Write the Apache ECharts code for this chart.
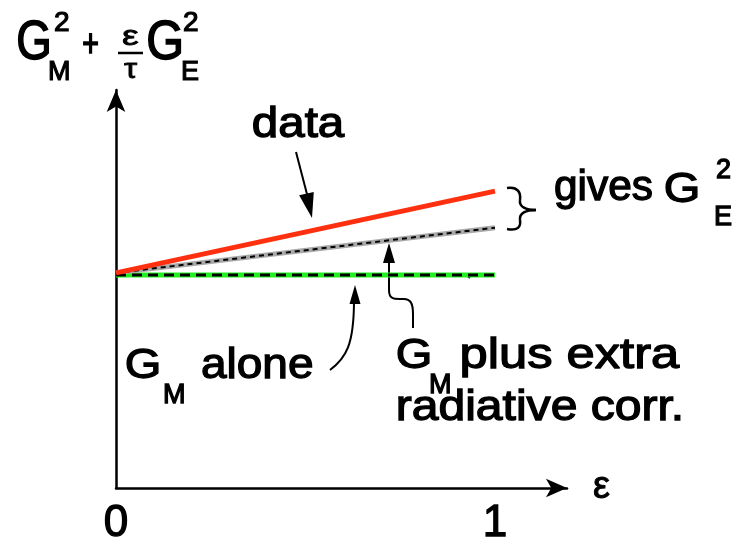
<!DOCTYPE html>
<html>
<head>
<meta charset="utf-8">
<script src="https://cdn.jsdelivr.net/npm/echarts@6/dist/echarts.min.js"></script>
<style>
  html, body { margin: 0; padding: 0; background: #fff; }
  #chart { width: 741px; height: 537px; }
</style>
</head>
<body>
<div id="chart"></div>
<script>
// epsilon values at the two ends of each line
const epsilon = [0, 1];
// tick labels on the epsilon axis
const epsilonTicks = [0, 1];
// G_M^2 + (eps/tau) G_E^2, arbitrary units
const measured = [1.0, 1.38];
const gmPlusRadCorr = [1.0, 1.21];
const gmAlone = [0.99, 0.99];

const FONT = '"Liberation Sans", Arial, Helvetica, sans-serif';
const INK = '#000';

function pairs(ys) {
  return epsilon.map((x, i) => [x, ys[i]]);
}

const measureCtx = document.createElement('canvas').getContext('2d');

// text placed by the left edge of its ink and its baseline;
// an optional ink width stretches the glyphs horizontally
function label(str, left, baseline, size, opts) {
  opts = opts || {};
  const font = 'normal ' + size + 'px ' + FONT;
  measureCtx.font = font;
  const m = measureCtx.measureText(str);
  const ink = m.actualBoundingBoxLeft + m.actualBoundingBoxRight;
  const sx = opts.width ? opts.width / ink : (opts.sx || 1);
  const asc = m.fontBoundingBoxAscent, desc = m.fontBoundingBoxDescent;
  const mid = baseline - (asc - desc) / 2;
  return {
    type: 'text', silent: true,
    x: left + m.actualBoundingBoxLeft * sx, y: mid,
    scaleX: sx,
    style: {
      text: str, x: 0, y: 0, fill: INK, font: font,
      stroke: INK, lineWidth: opts.bold === undefined ? 1.3 : opts.bold,
      align: 'left', verticalAlign: 'middle'
    }
  };
}

// filled arrowhead: tip point, direction of travel (radians), length, width
function arrowHead(tx, ty, ang, len, wid) {
  const bx = tx - len * Math.cos(ang), by = ty - len * Math.sin(ang);
  const nx = -Math.sin(ang) * wid / 2, ny = Math.cos(ang) * wid / 2;
  return {
    type: 'polygon', silent: true,
    shape: { points: [[tx, ty], [bx + nx, by + ny], [bx - nx, by - ny]] },
    style: { fill: INK }
  };
}

function stroke(w) { return { stroke: INK, lineWidth: w, fill: null }; }
function curve(x1, y1, c1x, c1y, c2x, c2y, x2, y2, w) {
  return {
    type: 'bezierCurve', silent: true,
    shape: { x1: x1, y1: y1, cpx1: c1x, cpy1: c1y, cpx2: c2x, cpy2: c2y, x2: x2, y2: y2 },
    style: stroke(w)
  };
}
function seg(x1, y1, x2, y2, w) {
  return { type: 'line', silent: true, shape: { x1: x1, y1: y1, x2: x2, y2: y2 }, style: stroke(w) };
}

const annotations = [
  // axis title: G_M^2 + (eps/tau) G_E^2
  label('G', 18, 63, 56, { width: 31, bold: 1.6 }),
  label('2', 55, 33, 28, { bold: 1.2 }),
  label('M', 50, 82, 27, { bold: 1.2 }),
  label('+', 83, 59, 38, { width: 15, bold: 1.6 }),
  label('ε', 122, 47, 28, { width: 16, bold: 0.8 }),
  seg(118, 53, 143, 53, 2.5),
  label('τ', 124, 80, 28, { width: 13, bold: 0.8 }),
  label('G', 148, 63, 56, { width: 33, bold: 1.6 }),
  label('2', 184, 33, 28, { bold: 1.2 }),
  label('E', 183, 82, 27, { bold: 1.2 }),

  // "data" label and arrow
  label('data', 253, 140, 42, { width: 92 }),
  seg(296, 152, 308, 198, 2),
  arrowHead(312, 218, Math.atan2(66, 15), 25, 15),

  // brace and "gives G_E^2"
  curve(507, 188, 518, 186, 521, 193, 520, 200, 2.5),
  curve(520, 200, 519, 207, 526, 210, 536, 210, 2.5),
  curve(536, 210, 526, 210, 519, 213, 520, 220, 2.5),
  curve(520, 220, 521, 227, 518, 231, 507, 229, 2.5),
  label('gives', 555, 203, 42, { width: 97 }),
  label('G', 666, 205, 42, { sx: 1.12 }),
  label('E', 716, 227, 27),
  label('2', 717, 180, 27),

  // "G_M alone" label and curved arrow
  label('G', 127, 381, 42, { sx: 1.12 }),
  label('M', 165, 405, 27),
  label('alone', 202, 381, 42, { width: 110 }),
  curve(354, 300, 354, 345, 346, 358, 330, 370, 2),
  arrowHead(355, 285, -Math.PI / 2, 19, 11),

  // "G_M plus extra radiative corr." label and wavy arrow
  label('G', 398, 371, 42, { sx: 1.12 }),
  label('M', 431, 395, 27),
  label('plus extra', 462, 371, 42, { width: 218 }),
  label('radiative corr.', 398, 423, 42, { width: 282 }),
  seg(389, 258, 389, 290, 2),
  curve(389, 290, 389, 300, 395, 299, 402, 299, 2),
  curve(402, 299, 411, 298, 413, 304, 413, 314, 2),
  seg(413, 314, 413, 328, 2),
  arrowHead(389, 243, -Math.PI / 2, 20, 12),
  seg(465, 274, 470, 278, 2)
];

const chart = echarts.init(document.getElementById('chart'), null, { renderer: 'canvas' });

chart.setOption({
  animation: false,
  backgroundColor: '#fff',
  grid: {
    left: 116, right: 174, top: 90, bottom: 49,
    containLabel: false, outerBoundsMode: 'none'
  },
  xAxis: {
    type: 'value', min: 0, max: 1.19,
    name: 'ε', nameLocation: 'end', nameGap: 26,
    nameTextStyle: {
      fontFamily: FONT, fontSize: 38, color: INK, verticalAlign: 'middle',
      textBorderColor: INK, textBorderWidth: 1
    },
    axisLine: {
      onZero: false,
      symbol: ['none', 'arrow'], symbolSize: [14, 21],
      lineStyle: { color: INK, width: 2.5 }
    },
    axisTick: { show: false },
    splitLine: { show: false },
    axisLabel: {
      customValues: epsilonTicks,
      formatter: v => String(v),
      fontFamily: FONT, fontSize: 44, color: INK, margin: 14,
      textBorderColor: INK, textBorderWidth: 1.3
    }
  },
  yAxis: {
    type: 'value', min: 0, max: 1.85,
    axisLine: {
      show: true, onZero: false,
      symbol: ['none', 'arrow'], symbolSize: [14, 22],
      lineStyle: { color: INK, width: 2.5 }
    },
    axisTick: { show: false },
    axisLabel: { show: false },
    splitLine: { show: false }
  },
  series: [
    {
      name: 'G_M alone', type: 'line', data: pairs(gmAlone), symbol: 'none',
      lineStyle: { color: '#22ee22', width: 5, cap: 'butt' }, z: 2
    },
    {
      name: 'G_M alone dashed', type: 'line', data: pairs(gmAlone), symbol: 'none',
      lineStyle: { color: INK, width: 3, type: [10, 6], cap: 'butt' }, z: 3
    },
    {
      name: 'G_M + extra radiative corr.', type: 'line', data: pairs(gmPlusRadCorr), symbol: 'none',
      lineStyle: { color: '#a8a8a8', width: 5, cap: 'butt' }, z: 2
    },
    {
      name: 'G_M + extra radiative corr. dashed', type: 'line', data: pairs(gmPlusRadCorr), symbol: 'none',
      lineStyle: { color: INK, width: 2, type: [5, 4], cap: 'butt' }, z: 3
    },
    {
      name: 'data', type: 'line', data: pairs(measured), symbol: 'none',
      lineStyle: { color: '#ff3010', width: 5, cap: 'butt' }, z: 4
    }
  ],
  graphic: annotations
});
</script>
</body>
</html>
